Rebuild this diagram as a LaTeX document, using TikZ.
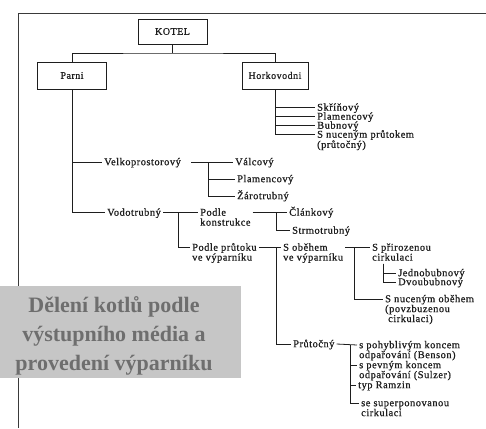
\documentclass[tikz,border=0pt]{standalone}
\usepackage{fontspec}
\setmainfont{Liberation Serif}
\newfontfamily\lblfont[LetterSpace=5, FakeBold=0.8]{Liberation Serif}
\definecolor{inkgray}{HTML}{1E1E1E}
\definecolor{framegray}{HTML}{3A3A3A}
\definecolor{boxgray}{HTML}{C6C6C6}
\definecolor{capgray}{HTML}{6E6E6E}
\newcommand{\radky}[1]{\begin{tabular}[t]{@{}l@{}}#1\end{tabular}}

\begin{document}
\begin{tikzpicture}[x=1pt, y=-1pt,
    box/.style={draw=inkgray, line width=0.8pt, fill=white, inner sep=0pt,
      font=\lblfont\fontsize{10}{10}\selectfont, text=inkgray},
    lbl/.style={anchor=north west, yshift=3.5pt, text height=6.5pt,
      inner xsep=2pt, inner ysep=0pt, font=\lblfont\fontsize{10.4}{9}\selectfont, text=inkgray},
    conn/.style={draw=inkgray, line width=0.8pt}]
  \useasboundingbox (0,0) rectangle (486,428);
  \fill[white] (0,0) rectangle (486,428);
  %frame of the scanned page
  \draw[framegray, line width=0.8pt] (18,428) |- (486,13);

  \node[box, minimum width=69, minimum height=25] (kotel) at (172.5,31.5) {KOTEL};
  \node[box, minimum width=69, minimum height=27] (parni) at (72,75.5) {Parni};
  \node[box, minimum width=66, minimum height=27] (hork) at (275,75.5) {Horkovodni};
  \coordinate (kj) at (172.5,53);
  \draw[conn] (kotel.south) -- (kj);
  \draw[conn] (parni.north) |- (kj) -| (hork.north);

  %horkovodni
  \node[lbl] (skr) at (315,107.5) {Skříňový};
  \node[lbl] (plm) at (315,116.5) {Plamencový};
  \node[lbl] (bub) at (315,125.5) {Bubnový};
  \node[lbl] (snp) at (315,134.5) {\radky{S nuceným průtokem\\(průtočný)}};
  \foreach \n in {skr,plm,bub,snp}
    \draw[conn] (hork.south) |- ([yshift=-3.5pt]\n.north west);

  %parni
  \node[lbl] (velk) at (102,162) {Velkoprostorový};
  \node[lbl] (val) at (233,162) {Válcový};
  \node[lbl] (plc) at (235,179) {Plamencový};
  \node[lbl] (zar) at (235,196) {Žárotrubný};
  \node[lbl] (vodo) at (105,212.5) {Vodotrubný};
  \foreach \n in {velk,vodo}
    \draw[conn] (parni.south) |- ([yshift=-3.5pt]\n.north west);
  \coordinate (vj) at (208,162);
  \draw[conn, shorten <=8pt] ([yshift=-3.5pt]velk.north east) -- ([yshift=-3.5pt]val.north west);
  \foreach \n in {plc,zar}
    \draw[conn] (vj) |- ([yshift=-3.5pt]\n.north west);

  %vodotrubny
  \node[lbl] (podk) at (198,212.5) {\radky{Podle\\konstrukce}};
  \node[lbl] (podp) at (190,247.5) {\radky{Podle průtoku\\ve výparníku}};
  \coordinate (wj) at (178,212.5);
  \draw[conn] ([yshift=-3.5pt]vodo.north east) -- ([yshift=-3.5pt]podk.north west);
  \draw[conn] (wj) |- ([yshift=-3.5pt]podp.north west);

  \node[lbl] (cla) at (287,212.5) {Článkový};
  \node[lbl] (str) at (290,230.5) {Strmotrubný};
  \coordinate (kj2) at (276,212.5);
  \draw[conn] ([yshift=-3.5pt]podk.north east) -- ([yshift=-3.5pt]cla.north west);
  \draw[conn] (kj2) |- ([yshift=-3.5pt]str.north west);

  \node[lbl] (sob) at (281,247.5) {\radky{S oběhem\\ve výparníku}};
  \node[lbl] (pru) at (291,344) {Průtočný};
  \coordinate (pj) at (276,247.5);
  \draw[conn] ([yshift=-3.5pt]podp.north east) -- ([yshift=-3.5pt]sob.north west);
  \draw[conn] (pj) |- ([yshift=-3.5pt]pru.north west);

  %s obehem
  \node[lbl] (spr) at (370,247.5) {\radky{S přirozenou\\cirkulaci}};
  \node[lbl] (snu) at (383,299) {\radky{S nuceným oběhem\\(povzbuzenou\\\hspace{3pt}cirkulaci)}};
  \coordinate (oj) at (354,247.5);
  \draw[conn] ([yshift=-3.5pt]sob.north east) -- ([yshift=-3.5pt]spr.north west);
  \draw[conn] (oj) |- ([yshift=-3.5pt]snu.north west);

  \node[lbl] (jed) at (396,273) {Jednobubnový};
  \node[lbl] (dvo) at (396,282) {Dvoububnový};
  \coordinate (rj) at ([xshift=13pt]spr.south west);
  \foreach \n in {jed,dvo}
    \draw[conn] (rj) |- ([yshift=-3.5pt]\n.north west);

  %prutocny
  \node[lbl] (spo) at (357,345) {\radky{s pohyblivým koncem\\odpařování (Benson)}};
  \node[lbl] (spe) at (357,365) {\radky{s pevným koncem\\odpařování (Sulzer)}};
  \node[lbl] (ram) at (356,385) {typ Ramzin};
  \node[lbl] (ssu) at (359,403) {\radky{se superponovanou\\cirkulaci}};
  \coordinate (tj) at (350,345);
  \draw[conn] ([yshift=-3.5pt]pru.north east) -- ([yshift=-3.5pt]spo.north west);
  \foreach \n in {spe,ram,ssu}
    \draw[conn] (tj) |- ([yshift=-3.5pt]\n.north west);

  %grey caption over the scan
  \fill[boxgray] (0,286) rectangle (241,378);
  \node[align=center, text=capgray, font=\bfseries\fontsize{22}{29}\selectfont] (popis) at (114,336)
    {Dělení kotlů podle\\výstupního média a\\provedení výparníku};
\end{tikzpicture}
\end{document}
